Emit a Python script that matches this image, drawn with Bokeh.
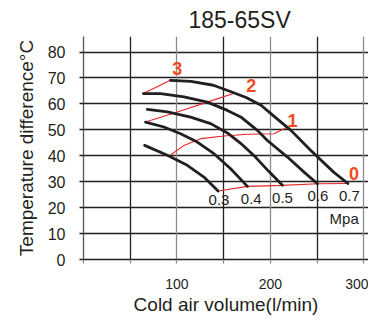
from bokeh.plotting import figure
from bokeh.models import Grid, FixedTicker, Title
from bokeh.core.properties import value
from bokeh.embed import file_html
from bokeh.resources import INLINE

# ---- data ----
x_07 = [93, 115, 139, 158, 174, 190, 204, 222, 243, 268, 283]
y_07 = [69.1, 68.7, 67.2, 64.7, 62.5, 59.5, 55.2, 49.8, 42.1, 33.6, 29.3]
x_06 = [64.0, 82.5, 107.5, 132.5, 154.0, 168.2, 186.1, 196.8, 218.3, 236.0, 250.4]
y_06 = [64.0, 64.0, 62.7, 60.7, 57.5, 55.0, 49.8, 45.9, 39.5, 33.7, 29.2]
x_05 = [68.3, 89.7, 114.6, 136.1, 154.0, 168.2, 184.3, 198.2, 212.9]
y_05 = [57.9, 56.9, 54.9, 52.4, 48.8, 44.8, 39.4, 34.0, 28.6]
x_04 = [66.4, 86.0, 103.9, 121.8, 139.6, 157.5, 175.4]
y_04 = [53.0, 51.1, 48.5, 45.3, 40.8, 35.0, 28.2]
x_03 = [65.4, 89.7, 111.1, 128.9, 144.0]
y_03 = [44.0, 40.2, 36.3, 31.8, 26.4]

# red iso-lines
x_r3 = [64.0, 93.0]
y_r3 = [64.0, 69.1]
x_r2 = [66.4, 100.4, 132.5, 162.0]
y_r2 = [53.0, 56.9, 60.7, 64.2]
x_r1 = [91.4, 107.5, 125.4, 150.3, 175.4, 203.9, 218.0]
y_r1 = [39.8, 44.0, 46.6, 47.6, 48.3, 48.5, 51.0]
x_r0 = [144.0, 175.4, 212.9, 250.4, 283.0]
y_r0 = [26.4, 28.2, 28.6, 29.2, 29.3]

pressure_labels = ["0.3", "0.4", "0.5", "0.6", "0.7"]
pressure_x = [145, 179.5, 213, 251, 284.6]
pressure_y = [22.8, 23.3, 23.9, 24.3, 24.3]

red_labels = ["3", "2", "1", "0"]
red_x = [100.4, 179.5, 223.6, 289.6]
red_y = [73.8, 67.2, 53.5, 33.1]

x_ticks = [0, 50, 100, 150, 200, 250, 300]
y_ticks = [0, 10, 20, 30, 40, 50, 60, 70, 80]

title_text = "185-65SV"
x_title = "Cold air volume(l/min)"
y_title = "Temperature difference°C"

FONT = "Liberation Sans"
INK = "#231f20"
RED = "#e8262a"
ORANGE = "#f04923"

p = figure(width=368, height=320, x_range=(0, 305), y_range=(0, 86),
           output_backend="svg", toolbar_location=None,
           min_border_left=83, min_border_right=0, min_border_top=36,
           min_border_bottom=61)
p.outline_line_color = None
p.background_fill_color = "white"

p.title = Title(text=title_text, align="left", offset=105, standoff=7,
                text_font=FONT, text_font_size="23px",
                text_font_style="normal", text_color=INK)

# grids
p.xgrid.visible = False
p.ygrid.grid_line_color = INK
p.ygrid.grid_line_width = 1.3
p.ygrid.ticker = FixedTicker(ticks=y_ticks)
g1 = Grid(dimension=0, ticker=FixedTicker(ticks=[50, 150, 250]),
          grid_line_color=INK, grid_line_width=1.3)
g2 = Grid(dimension=0, ticker=FixedTicker(ticks=[100, 200, 300]),
          grid_line_color="#8a8a8a", grid_line_width=1.3)
p.add_layout(g1)
p.add_layout(g2)

# axes
p.xaxis.ticker = FixedTicker(ticks=x_ticks)
p.xaxis.major_label_overrides = {0: "", 50: "", 150: "", 250: ""}
p.yaxis.ticker = FixedTicker(ticks=y_ticks)
for ax in (p.xaxis[0], p.yaxis[0]):
    ax.minor_tick_line_color = None
    ax.major_tick_in = 0
    ax.major_tick_out = 4
    ax.major_tick_line_width = 1.3
    ax.axis_line_width = 1.3
    ax.major_label_text_color = INK
    ax.axis_label_text_color = INK
    ax.axis_label_text_font = FONT
    ax.axis_label_text_font_style = "normal"
    ax.major_label_text_font = FONT
p.xaxis.axis_line_color = INK
p.xaxis.major_tick_line_color = "#8a8a8a"
p.yaxis.axis_line_color = "#555555"
p.yaxis.major_tick_line_color = INK
p.xaxis.major_label_text_font_size = "14px"
p.yaxis.major_label_text_font_size = "16px"
p.xaxis.major_label_standoff = 15
p.yaxis.major_label_standoff = 14
p.xaxis.axis_label = x_title
p.yaxis.axis_label = y_title
p.xaxis.axis_label_text_font_size = "19px"
p.yaxis.axis_label_text_font_size = "19px"
p.xaxis.axis_label_standoff = 2
p.yaxis.axis_label_standoff = 8

# red lines
for xs, ys in ((x_r3, y_r3), (x_r2, y_r2), (x_r1, y_r1), (x_r0, y_r0)):
    p.line(xs, ys, line_color=RED, line_width=1.1)

# black pressure curves
for xs, ys in ((x_03, y_03), (x_04, y_04), (x_05, y_05), (x_06, y_06), (x_07, y_07)):
    p.line(xs, ys, line_color=INK, line_width=2.8, line_join="round", line_cap="round")

p.text(x=pressure_x, y=pressure_y, text=pressure_labels, text_align="center",
       text_baseline="middle", text_font=value(FONT),
       text_font_size="15px", text_color=INK)
p.text(x=[279], y=[15.9], text=["Mpa"], text_align="center",
       text_baseline="middle", text_font=value(FONT),
       text_font_size="15px", text_color=INK)
p.text(x=red_x, y=red_y, text=red_labels, text_align="center",
       text_baseline="middle", text_font=value(FONT),
       text_font_style="bold", text_font_size="18px", text_color=ORANGE)

open("out.html", "w").write(file_html(p, INLINE))
